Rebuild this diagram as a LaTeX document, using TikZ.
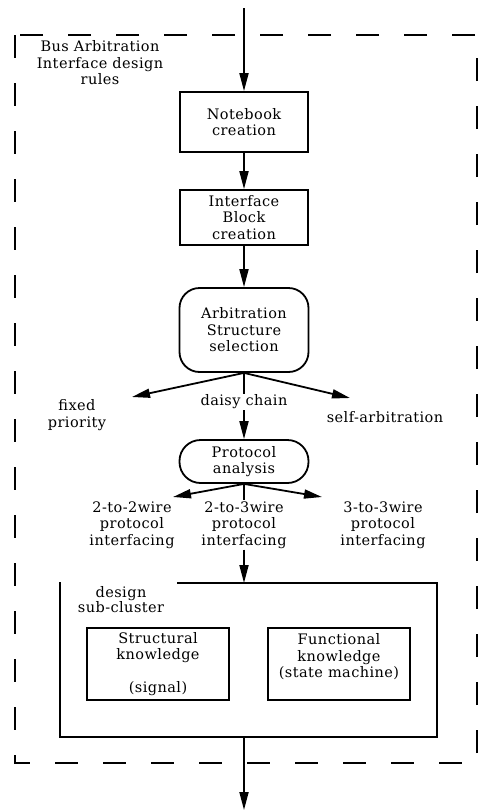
\documentclass[tikz,border=0pt]{standalone}
\usepackage{fontspec}
\setmainfont[LetterSpace=3]{DejaVu Serif}
\usetikzlibrary{arrows.meta,positioning}

\begin{document}
\begin{tikzpicture}[
    x=1pt,y=-1pt,
    box/.style={draw,line width=1.8pt,minimum width=128pt,align=center,inner sep=2pt},
    roundbox/.style={box,rounded corners=20pt},
    lbl/.style={align=center,inner sep=1pt},
    flow/.style={->,line width=1.8pt},
    plain/.style={line width=1.8pt},
    >={Triangle[length=18pt,width=9pt]},
    font=\fontsize{14.5}{16.5}\selectfont
]
\useasboundingbox (0,0) rectangle (485,811);

\draw[line width=1.8pt,dash pattern=on 23pt off 25pt] (15,35) rectangle (477,763);
\node[lbl] (rulesname) at (100,63) {Bus Arbitration\\Interface design\\rules};

\coordinate (inp) at (244,8);
\node[box,minimum height=60pt] (note) at (244,122) {Notebook\\creation};
\node[box,minimum height=55pt] (iblock) at (244,217.5) {Interface\\Block\\creation};
\node[roundbox,minimum width=129pt,minimum height=84pt] (arbsel) at (244,330) {Arbitration\\Structure\\selection};
\node[box,rounded corners=21pt,minimum width=129pt,minimum height=43pt] (proto) at (244,461.5) {Protocol\\analysis};

\draw[flow] (inp) -- (note.north);
\draw[flow] (note) -- (iblock);
\draw[flow] (iblock) -- (arbsel);

\node[lbl] (fixed) at (77,415) {fixed\\priority};
\node[lbl] (daisy) at (244,402) {daisy chain};
\node[lbl] (selfarb) at (385,417) {self-arbitration};
\coordinate (fixtip) at (132,397);
\coordinate (selftip) at (350,398);

\draw[flow] (arbsel.south) -- (fixtip);
\draw[flow] (arbsel.south) -- (selftip);
\draw[plain] (arbsel.south) -- (daisy.north);
\draw[flow] (daisy.south) -- (proto.north);

\node[lbl] (wire22) at (132,525) {2-to-2wire\\protocol\\interfacing};
\node[lbl] (wire23) at (244,525) {2-to-3wire\\protocol\\interfacing};
\node[lbl] (wire33) at (383,525) {3-to-3wire\\protocol\\interfacing};
\coordinate (w22tip) at (173,497);
\coordinate (w33tip) at (322,497);

\draw[flow] (proto.south) -- (w22tip);
\draw[flow] (proto.south) -- (w33tip);
\draw[plain] (proto.south) -- (wire23.north);

\coordinate (clusttop) at (244,583);
\coordinate (clustbot) at (244,737);
\draw[plain] (177,583) -- (437,583) -- (437,737) -- (60,737) -- (60,582);
\node[lbl,font=\fontsize{14.5}{15}\selectfont] (clname) at (121,600) {design\\sub-cluster};
\draw[flow] (wire23.south) -- (clusttop);

\node[box,minimum width=142pt,minimum height=72pt] (struct) at (158,664) {Structural\\knowledge\\\mbox{}\\(signal)};
\node[box,minimum width=142pt,minimum height=72pt] (func) at (339,664) {Functional\\knowledge\\(state machine)\\\mbox{}};

\coordinate (outp) at (244,810);
\draw[flow] (clustbot) -- (outp);
\end{tikzpicture}
\end{document}
